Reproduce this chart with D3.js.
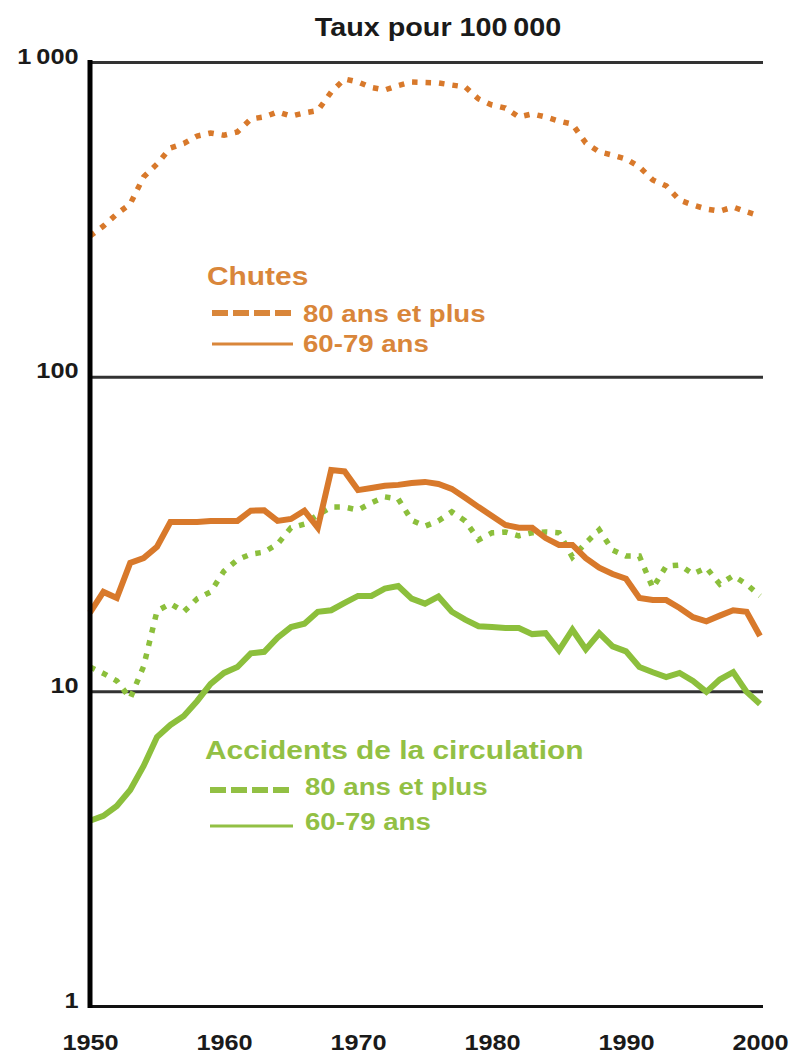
<!DOCTYPE html>
<html>
<head>
<meta charset="utf-8">
<script src="https://cdn.jsdelivr.net/npm/d3@7/dist/d3.min.js"></script>
<style>
  body { margin: 0; background: #fff; }
  svg { display: block; font-family: "Liberation Sans", Arial, sans-serif; font-weight: bold; }
</style>
</head>
<body>
<svg id="chart" width="795" height="1063"></svg>
<script>
const years = [1950,1951,1952,1953,1954,1955,1956,1957,1958,1959,
  1960,1961,1962,1963,1964,1965,1966,1967,1968,1969,
  1970,1971,1972,1973,1974,1975,1976,1977,1978,1979,
  1980,1981,1982,1983,1984,1985,1986,1987,1988,1989,
  1990,1991,1992,1993,1994,1995,1996,1997,1998,1999,2000];

// Chutes, 80 ans et plus
const chutes80 = [280,301,329,354,431,474,533,551,582,595,
  585,599,659,669,694,673,689,701,803,883,
  864,830,815,842,864,861,858,845,833,763,
  730,714,669,684,669,649,635,553,518,506,
  492,464,422,404,364,351,341,336,346,334,324];

// Chutes, 60-79 ans
const chutes6079 = [17.8,20.7,19.8,25.6,26.5,28.8,34.5,34.5,34.5,34.8,
  34.8,34.8,37.5,37.6,34.8,35.3,37.5,33.1,50.5,50.0,
  43.6,44.3,45.0,45.3,45.9,46.3,45.6,44.0,41.2,38.5,
  36.1,33.8,33.1,33.1,30.7,29.2,29.2,26.5,24.7,23.6,
  22.8,19.8,19.5,19.5,18.4,17.2,16.7,17.4,18.1,17.9,15.0];

// Accidents de la circulation, 80 ans et plus
const accid80 = [11.95,11.4,10.8,9.5,12.0,18.0,19.0,17.9,19.7,20.7,
  24.1,26.2,27.3,27.7,29.4,33.1,34.0,36.4,38.5,38.5,
  37.7,39.7,41.5,40.9,35.0,33.5,34.8,37.2,34.8,30.3,
  31.9,32.1,31.2,31.9,32.1,31.9,26.7,29.6,32.6,28.1,
  26.9,26.9,21.3,25.0,25.2,23.6,24.7,21.9,23.3,21.9,20.1];

// Accidents de la circulation, 60-79 ans
const accid6079 = [3.88,4.02,4.32,4.86,5.79,7.16,7.82,8.35,9.32,10.56,
  11.44,11.95,13.2,13.35,14.8,16.0,16.4,17.9,18.1,19.1,
  20.1,20.1,21.2,21.6,19.7,19.0,20.0,17.9,16.9,16.1,
  16.0,15.9,15.9,15.2,15.3,13.5,15.7,13.6,15.3,13.9,
  13.4,11.95,11.5,11.1,11.44,10.79,9.96,10.9,11.5,9.96,9.12];

const yTicks = [1, 10, 100, 1000];
const xTicks = [1950, 1960, 1970, 1980, 1990, 2000];

const orange = "#d8792b", orangeText = "#d9863a";
const green = "#8cbf3c", greenText = "#92c044";

const plotLeft = 90, plotRight = 760, plotTop = 62, plotBottom = 1006;
const stretch = 1.15;

const svg = d3.select("#chart");

const x = d3.scaleLinear().domain([1950, 2000]).range([plotLeft, plotRight]);
const y = d3.scaleLog().domain([1, 1000]).range([plotBottom, plotTop]);

// Y axis: gridlines and labels
const yAxis = svg.append("g")
  .attr("transform", "translate(" + plotLeft + ",0)")
  .call(d3.axisLeft(y)
    .tickValues(yTicks)
    .tickSize(-(plotRight + 3 - plotLeft))
    .tickPadding(10)
    .tickFormat(d => d3.format(",")(d).replace(",", "\u2009")));
yAxis.attr("font-family", null).attr("font-size", 22).attr("font-weight", "bold");
yAxis.select(".domain").remove();
yAxis.selectAll(".tick line")
  .attr("stroke", d => d === 1 ? "#111" : "#333")
  .attr("stroke-width", 3);
yAxis.selectAll(".tick text")
  .attr("dy", "0.05em")
  .attr("fill", "#1a1a1a")
  .attr("transform", "scale(" + stretch + ",1)");

// X axis labels
const xAxis = svg.append("g")
  .attr("transform", "translate(0," + plotBottom + ")")
  .call(d3.axisBottom(x).tickValues(xTicks).tickSize(0).tickPadding(28).tickFormat(d3.format("d")));
xAxis.attr("font-family", null).attr("font-size", 22).attr("font-weight", "bold");
xAxis.select(".domain").remove();
xAxis.selectAll(".tick text")
  .attr("fill", "#1a1a1a")
  .attr("transform", "scale(" + stretch + ",1)");

// Lines
const line = d3.line()
  .x((d, i) => x(years[i]))
  .y(d => y(d));

function drawLine(data, color, dotted) {
  svg.append("path")
    .datum(data)
    .attr("fill", "none")
    .attr("stroke", color)
    .attr("stroke-width", dotted ? 5.5 : 6)
    .attr("stroke-linejoin", "miter")
    .attr("stroke-dasharray", dotted ? "5.5,8" : null)
    .attr("d", line);
}

drawLine(accid6079, green, false);
drawLine(accid80, green, true);
drawLine(chutes6079, orange, false);
drawLine(chutes80, orange, true);

// Y axis line
svg.append("line")
  .attr("x1", plotLeft).attr("x2", plotLeft)
  .attr("y1", plotTop - 2).attr("y2", plotBottom + 2)
  .attr("stroke", "#000")
  .attr("stroke-width", 5);

// Texts
function label(txt, x0, y0, size, color, anchor) {
  svg.append("text")
    .attr("transform", "translate(" + x0 + "," + y0 + ") scale(" + stretch + ",1)")
    .attr("text-anchor", anchor || "start")
    .attr("font-size", size)
    .attr("fill", color)
    .text(txt);
}

label("Taux pour 100\u2009000", 438, 36, 25, "#1a1a1a", "middle");

// Legend - Chutes
label("Chutes", 207, 285, 26, orangeText);
svg.append("line").attr("x1", 212).attr("x2", 293).attr("y1", 313).attr("y2", 313)
  .attr("stroke", orangeText).attr("stroke-width", 6).attr("stroke-dasharray", "16,5");
label("80 ans et plus", 303, 322, 24, orangeText);
svg.append("line").attr("x1", 212).attr("x2", 293).attr("y1", 344).attr("y2", 344)
  .attr("stroke", orangeText).attr("stroke-width", 3);
label("60-79 ans", 303, 352, 24, orangeText);

// Legend - Accidents
label("Accidents de la circulation", 205, 759, 26, greenText);
svg.append("line").attr("x1", 210).attr("x2", 293).attr("y1", 790).attr("y2", 790)
  .attr("stroke", greenText).attr("stroke-width", 6).attr("stroke-dasharray", "16,5");
label("80 ans et plus", 305, 795, 24, greenText);
svg.append("line").attr("x1", 210).attr("x2", 293).attr("y1", 826).attr("y2", 826)
  .attr("stroke", greenText).attr("stroke-width", 3);
label("60-79 ans", 305, 830, 24, greenText);
</script>
</body>
</html>
